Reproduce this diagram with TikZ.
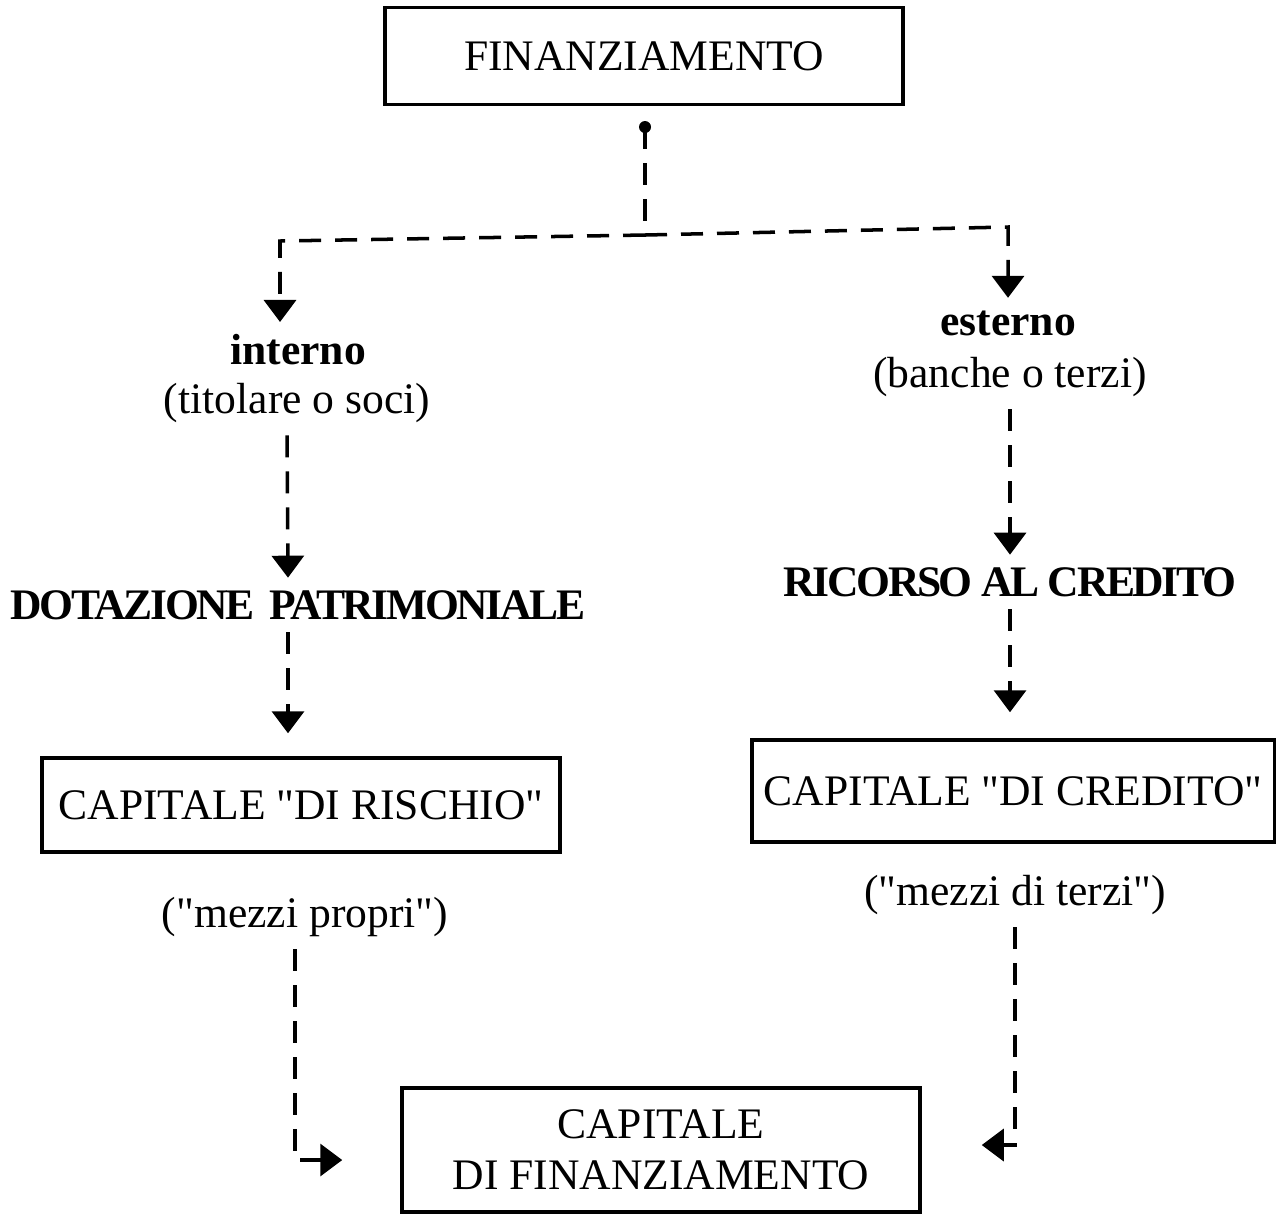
\documentclass[tikz,border=0pt]{standalone}
\usepackage{fontspec}
\setmainfont{Liberation Serif}[Ligatures=TeXOff]
\usepackage{tikz}
\usetikzlibrary{arrows.meta,positioning}

\begin{document}
\begin{tikzpicture}[x=0.1mm, y=0.1mm]
\tikzstyle{every node}+=[inner sep=1.2mm, font=\fontsize{12.4}{14.6}\selectfont]
\tikzstyle{box}=[draw, line width=1pt, fill=white, minimum width=5.18cm]
\tikzstyle{head}=[font=\fontsize{12.4}{14.6}\selectfont\bfseries]
\tikzstyle{tight}=[font={\fontsize{12.4}{14.6}\selectfont\bfseries\addfontfeature{LetterSpace=-5.5}}]
\tikzstyle{dashline}=[line width=1pt, dash pattern=on 2.2mm off 1.4mm]
\tikzstyle{flow}=[dashline, -{Triangle[width=3.2mm,length=2.2mm]}]
\useasboundingbox (0,0) rectangle (1276,-1216);
\node [box, minimum height=0.97cm] (fin) at (644,-56) {FINANZIAMENTO};
\node [head] (interno) at (298,-350) {interno};
\node (titolare) at (297,-403) {(titolare o soci)};
\node [tight] (dotazione) at (298,-605) {DOTAZIONE\kern0.6mm\ PATRIMONIALE};
\node [box, minimum height=0.94cm] (rischio) at (301,-805) {CAPITALE "DI RISCHIO"};
\node (propri) at (305,-917) {("mezzi propri")};
\node [head] (esterno) at (1008,-323) {esterno};
\node (banche) at (1010,-377) {(banche o terzi)};
\node [tight] (ricorso) at (1010,-582) {RICORSO AL CREDITO};
\node [box, minimum height=1.02cm] (credito) at (1013,-791) {CAPITALE "DI CREDITO"};
\node (terzi) at (1015,-895) {("mezzi di terzi")};
\node [box, minimum height=1.24cm, align=center] (cfin) at (661,-1150) {CAPITALE\\DI FINANZIAMENTO};
% split of the financing
\coordinate (split) at (645,-127);
\coordinate (junc) at (645,-235);
\coordinate (lcorner) at (280,-241);
\coordinate (rcorner) at (1008,-227);
\fill (split) circle (6);
\draw [dashline] (split) -- (junc);
\draw [flow] (junc) -- (lcorner) -- (lcorner |- interno.north);
\draw [flow] (junc) -- (rcorner) -- (rcorner |- esterno.north);
% left column
\draw [flow] ([xshift=-1mm]titolare.south) -- ([xshift=-1mm]dotazione.north);
\draw [flow, shorten >=2.3mm] ([xshift=-1mm]dotazione.south) -- ([xshift=-1mm]dotazione.south |- rischio.north);
\draw [flow, shorten >=5.8mm] ([xshift=-1mm]propri.south) |- ([yshift=-1mm]cfin.west);
% right column
\draw [flow] (banche.south) -- (banche.south |- ricorso.north);
\draw [flow, shorten >=2.6mm] (ricorso.south) -- (ricorso.south |- credito.north);
\draw [flow, shorten >=6mm] (terzi.south) |- ([yshift=0.5mm]cfin.east);
\end{tikzpicture}
\end{document}
